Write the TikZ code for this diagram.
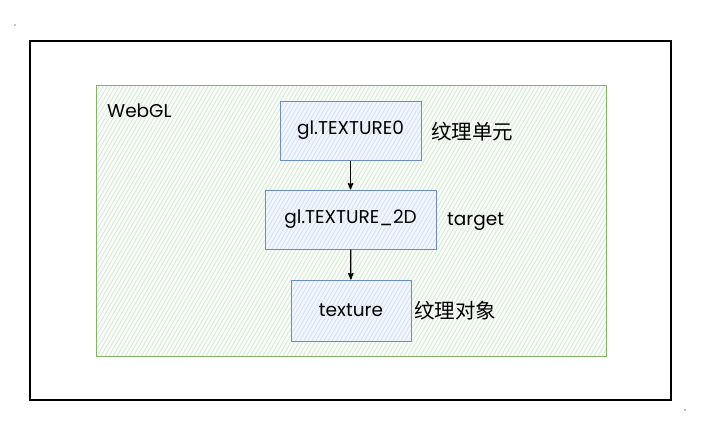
\documentclass[tikz,border=0pt]{standalone}
\usepackage{fontspec}
\setmainfont{Poppins}
\newfontfamily\cjk{Noto Sans CJK SC}
\usetikzlibrary{positioning, patterns.meta, arrows}

\definecolor{boxblue}{HTML}{6C8EBF}
\definecolor{boxfill}{HTML}{F2F6FC}
\definecolor{boxhatch}{HTML}{D2E1F5}
\definecolor{webglgreen}{HTML}{82B366}
\definecolor{webglfill}{HTML}{F8FBF7}
\definecolor{webglhatch}{HTML}{D8EAD5}

\tikzset{
	glbox/.style={draw=boxblue, line width=1pt, preaction={fill=boxfill},
		pattern={Lines[angle=60, distance=3.5pt, line width=0.8pt]}, pattern color=boxhatch,
		minimum height=59pt, inner sep=0pt, font=\fontsize{18.5}{20}\selectfont},
	note/.style={anchor=west, inner sep=0pt, font=\fontsize{18.5}{20}\selectfont},
	cjknote/.style={note, font=\cjk\fontsize{20.5}{22}\selectfont},
}

\begin{document}
\begin{tikzpicture}[x=1pt, y=-1pt, > = stealth']
			\useasboundingbox (0,0) rectangle (701,426);
			\fill (15,25) circle (0.7);
			\fill (685,410) circle (0.7);
			
			%% Rahmen
			\draw [line width=1.3pt] (30,41) rectangle (671,400);
			
			%% WebGL
			\draw [draw=webglgreen, line width=1pt, preaction={fill=webglfill},
			pattern={Lines[angle=60, distance=3.5pt, line width=0.8pt]}, pattern color=webglhatch]
			(96,85) rectangle (606,356);
			\node [note] (webgl) at (107,111) {WebGL};
			
			%% Boxes
			\node [glbox, minimum width=141pt] (unit) at (350.5,130.5) {gl.TEXTURE0};
			\node [glbox, minimum width=171pt] (tgt) at (350.5,219.5) {gl.TEXTURE\_2D};
			\node [glbox, minimum width=120pt, minimum height=61pt] (tex) at (351,310.5) {texture};
			
			\node [cjknote] (unitlbl) at (431,132) {纹理单元};
			\node [note] (tgtlbl) at (447,222) {target};
			\node [cjknote] (texlbl) at (414,311) {纹理对象};
			
			%% Pfeile
			\draw [->, line width=1.3pt] (unit) -- (tgt);
			\draw [->, line width=1.3pt] (tgt) -- (tex);
		\end{tikzpicture}
\end{document}
